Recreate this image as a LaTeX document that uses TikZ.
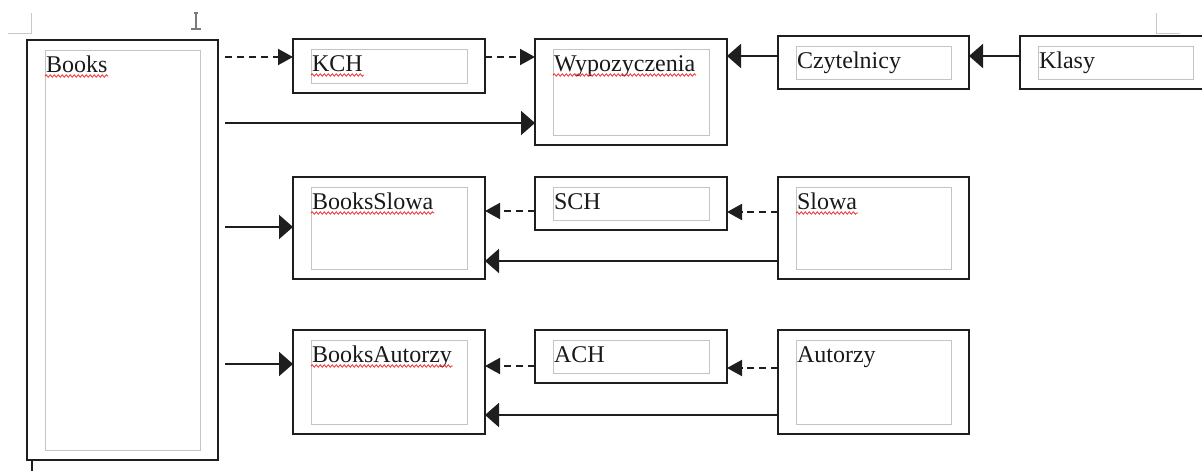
\documentclass[tikz,border=0pt]{standalone}
\usepackage{fontspec}
\setmainfont{Liberation Serif}
\usetikzlibrary{arrows.meta,decorations.pathmorphing}
\definecolor{boxline}{HTML}{1E1E1E}
\definecolor{innerline}{HTML}{C4C4C4}
\definecolor{markgray}{HTML}{C8C8C8}
\definecolor{cursorgray}{HTML}{7A7A7A}
\definecolor{spellred}{HTML}{F03030}
\newcommand\tablebox[6]{%
  \node[outerbox, minimum width=#4pt, minimum height=#5pt] (#1) at (#2,#3) {};
  \draw[innerbox] ([shift={(18pt,-10pt)}]#1.north west) rectangle ([shift={(-18pt,10pt)}]#1.south east);
  \node[labeltext] (#1-t) at ([shift={(19pt,-32pt)}]#1.north west) {#6};
}
\newcommand\spellmark[1]{%
  \draw[spell] ([shift={(-1pt,-4pt)}]#1.base west) -- ([shift={(1pt,-4pt)}]#1.base east);
}
\begin{document}
\begin{tikzpicture}[x=1pt,y=-1pt,
  outerbox/.style={draw=boxline, line width=2pt, rectangle, inner sep=0pt, outer sep=0pt, anchor=north west},
  innerbox/.style={draw=innerline, line width=1pt},
  labeltext/.style={anchor=base west, inner sep=0pt, outer sep=0pt, font=\fontsize{24}{28}\selectfont, text=black!90},
  solidarrow/.style={draw=boxline, line width=2pt, -{Triangle[length=14pt,width=24pt]}},
  dasharrow/.style={draw=boxline, line width=2pt, dash pattern=on 7pt off 5pt, -{Triangle[length=15pt,width=16pt]}},
  spell/.style={draw=spellred, line width=0.8pt, decorate, decoration={snake, amplitude=1.2pt, segment length=4pt}},
  pagemark/.style={draw=markgray, line width=1pt}]
\useasboundingbox (0,0) rectangle (1202,471);
\clip (0,0) rectangle (1202,471);

% page marks
\draw[pagemark] (8,33) -- (31,33) -- (31,13);
\draw[pagemark] (1156,13) -- (1156,33) -- (1180,33);
\draw[draw=cursorgray, line width=1.5pt] (194,13) -- (198,13) (196,13) -- (196,29) (191,29) -- (201,29);
\draw[draw=boxline, line width=2pt] (32,460) -- (32,471);

% boxes
\tablebox{books}{27}{40}{191}{420}{Books}
\tablebox{kch}{293}{39}{192}{54}{KCH}
\tablebox{wyp}{535}{39}{192}{106}{Wypozyczenia}
\tablebox{czyt}{778}{36}{191}{53}{Czytelnicy}
\tablebox{klasy}{1020}{36}{191}{53}{Klasy}
\tablebox{bslowa}{293}{177}{192}{102}{BooksSlowa}
\tablebox{sch}{535}{177}{192}{53}{SCH}
\tablebox{slowa}{778}{177}{191}{102}{Slowa}
\tablebox{baut}{293}{330}{192}{104}{BooksAutorzy}
\tablebox{ach}{535}{330}{192}{53}{ACH}
\tablebox{aut}{778}{330}{191}{104}{Autorzy}

% spell-check underlines
\spellmark{books-t}
\spellmark{kch-t}
\spellmark{wyp-t}
\spellmark{bslowa-t}
\spellmark{slowa-t}
\spellmark{baut-t}

% levels
\coordinate (bk) at ([xshift=7pt]books.east);
\coordinate (y57) at (0,57);
\coordinate (y56) at (0,56);
\coordinate (y123) at (0,123);
\coordinate (y227) at (0,227);
\coordinate (y211) at (0,211);
\coordinate (y212) at (0,212);
\coordinate (y261) at (0,261);
\coordinate (y364) at (0,364);
\coordinate (y366) at (0,366);
\coordinate (y368) at (0,368);
\coordinate (y415) at (0,415);

% connectors
\draw[dasharrow] (bk |- y57) -- (kch.west |- y57);
\draw[dasharrow] (kch.east |- y57) -- (wyp.west |- y57);
\draw[solidarrow] (bk |- y123) -- (wyp.west |- y123);
\draw[solidarrow] (czyt.west |- y56) -- (wyp.east |- y56);
\draw[solidarrow] (klasy.west |- y56) -- (czyt.east |- y56);

\draw[solidarrow] (bk |- y227) -- (bslowa.west |- y227);
\draw[dasharrow] (sch.west |- y211) -- (bslowa.east |- y211);
\draw[dasharrow] (slowa.west |- y212) -- (sch.east |- y212);
\draw[solidarrow] (slowa.west |- y261) -- (bslowa.east |- y261);

\draw[solidarrow] (bk |- y364) -- (baut.west |- y364);
\draw[dasharrow] (ach.west |- y366) -- (baut.east |- y366);
\draw[dasharrow] (aut.west |- y368) -- (ach.east |- y368);
\draw[solidarrow] (aut.west |- y415) -- (baut.east |- y415);
\end{tikzpicture}
\end{document}
